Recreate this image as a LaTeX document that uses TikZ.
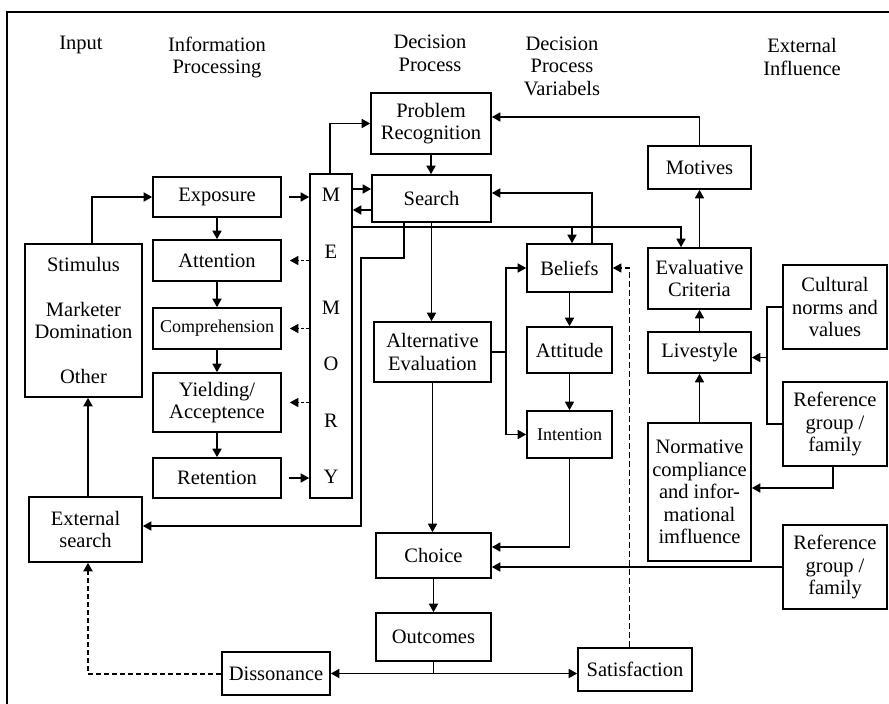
\documentclass[tikz,border=0pt]{standalone}
\usepackage{fontspec}
\setmainfont{Liberation Serif}
\usetikzlibrary{arrows.meta,positioning,calc}

\begin{document}
\begin{tikzpicture}[
  x=1pt, y=-1pt,
  >={Triangle[length=8.5pt,width=9pt]},
  every node/.style={font=\fontsize{20.5}{22.5}\selectfont},
  box/.style={draw,line width=1.6pt,align=center,inner sep=0pt},
  head/.style={align=center,inner sep=0pt},
  small/.style={font=\fontsize{18}{20}\selectfont},
  arc/.style={->,line width=1.5pt},
  heavyarc/.style={->,line width=2.2pt},
  memarc/.style={->,line width=1.2pt,dash pattern=on 3pt off 2pt},
  feedback/.style={->,line width=1.2pt,dash pattern=on 6pt off 3pt},
  heavyfeedback/.style={->,line width=2pt,dash pattern=on 5pt off 3pt}
]
  \useasboundingbox (0,0) rectangle (889,704);
  \draw[line width=1.4pt] (7,704) |- (889,12);

  \node[head] (h1) at (81,45) {Input};
  \node[head] (h2) at (217,57.5) {Information\\Processing};
  \node[head] (h3) at (430,53.5) {Decision\\Process};
  \node[head] (h4) at (562,66) {Decision\\Process\\Variabels};
  \node[head] (h5) at (802,57) {External\\Influence};

  \node[box,minimum width=117pt,minimum height=153pt] (stim) at (83.5,320.5)
    {Stimulus\\[22.6pt]Marketer\\Domination\\[22.6pt]Other};
  \node[box,minimum width=113pt,minimum height=65pt] (ext) at (85.5,529.5) {External\\search};

  \node[box,minimum width=128pt,minimum height=40pt] (expo) at (217,197) {Exposure};
  \node[box,minimum width=128pt,minimum height=41pt] (att) at (217,260.5) {Attention};
  \node[box,small,minimum width=128pt,minimum height=41pt] (comp) at (217,328.5) {Comprehension};
  \node[box,minimum width=128pt,minimum height=59pt] (yield) at (217,402.5) {Yielding/\\Acceptence};
  \node[box,minimum width=128pt,minimum height=40pt] (ret) at (217,478) {Retention};
  \node[box,minimum width=42pt,minimum height=324pt,font=\fontsize{20.5}{56.4}\selectfont] (mem) at (331,336)
    {M\\E\\M\\O\\R\\Y};

  \node[box,minimum width=120pt,minimum height=61pt] (prob) at (431,123.5) {Problem\\Recognition};
  \node[box,minimum width=119pt,minimum height=47pt] (search) at (431.5,198.5) {Search};
  \node[box,minimum width=117pt,minimum height=60pt] (alt) at (432.5,352) {Alternative\\Evaluation};
  \node[box,minimum width=115pt,minimum height=45pt] (choice) at (433.5,555.5) {Choice};
  \node[box,minimum width=115pt,minimum height=48pt] (outc) at (433.5,637) {Outcomes};
  \node[box,minimum width=108pt,minimum height=43pt] (diss) at (276,673.5) {Dissonance};
  \node[box,minimum width=114pt,minimum height=43pt] (satis) at (635,669.5) {Satisfaction};

  \node[box,minimum width=85pt,minimum height=48pt] (bel) at (569.5,268) {Beliefs};
  \node[box,minimum width=85pt,minimum height=46pt] (atti) at (569.5,350) {Attitude};
  \node[box,small,minimum width=85pt,minimum height=47pt] (inten) at (569.5,434.5) {Intention};

  \node[box,minimum width=103pt,minimum height=43pt] (motiv) at (699.5,167.5) {Motives};
  \node[box,minimum width=103pt,minimum height=61pt] (evcrit) at (699.5,278.5) {Evaluative\\Criteria};
  \node[box,minimum width=103pt,minimum height=41pt] (life) at (699.5,352.5) {Livestyle};
  \node[box,minimum width=103pt,minimum height=138pt] (norm) at (699.5,492)
    {Normative\\compliance\\and infor-\\mational\\imfluence};

  \node[box,minimum width=104pt,minimum height=84pt] (cult) at (835,307) {Cultural\\norms and\\values};
  \node[box,minimum width=104pt,minimum height=84pt] (refa) at (835,424) {Reference\\group /\\family};
  \node[box,minimum width=104pt,minimum height=84pt] (refb) at (835,567) {Reference\\group /\\family};

  \coordinate (bus) at (352,227);
  \coordinate (jog) at (361,258);
  \coordinate (altfork) at ([xshift=14pt]alt.east);
  \coordinate (cfork) at ([xshift=-15pt]cult.west);

  \draw[arc] ([xshift=8.5pt]stim.north) |- (expo.west);
  \draw[heavyarc] ([xshift=2.5pt]ext.north) -- ([xshift=2.5pt]ext.north |- stim.south);

  \draw[arc] (expo) -- (att);
  \draw[arc] (att) -- (comp);
  \draw[arc] (comp) -- (yield);
  \draw[arc] (yield) -- (ret);

  \draw[arc,shorten <=7pt] (expo.east) -- (expo.east -| mem.west);
  \draw[arc,shorten <=7pt] (ret.east) -- (ret.east -| mem.west);
  \draw[memarc,shorten >=8pt] (mem.west |- att.east) -- (att.east);
  \draw[memarc,shorten >=8pt] (mem.west |- comp.east) -- (comp.east);
  \draw[memarc,shorten >=8pt] (mem.west |- yield.east) -- (yield.east);

  \draw[arc] ([xshift=-1pt]mem.north) |- (prob.west);
  \draw[arc] (prob.south) -- (prob.south |- search.north);
  \draw[arc] ([yshift=9.5pt]search.west -| mem.east) -- ([yshift=9.5pt]search.west);
  \draw[arc] ([yshift=-11.5pt]search.west) -- ([yshift=-11.5pt]search.west -| mem.east);

  \draw[arc] (bus) -| ([xshift=-18.5pt]evcrit.north);
  \draw[arc] ([xshift=2.5pt]bel.north |- bus) -- ([xshift=2.5pt]bel.north);
  \draw[arc] ([xshift=22.5pt]bel.north) |- ([yshift=5.5pt]search.east);

  \draw[arc] ([xshift=-27.5pt]search.south) |- (jog) |- ([yshift=3.5pt]ext.east);
  \draw[arc] (search.south) -- (search.south |- alt.north);

  \draw[line width=1.5pt] (alt.east) -- (altfork);
  \draw[arc] (altfork) |- (bel.west);
  \draw[arc] (altfork) |- (inten.west);
  \draw[arc] (bel) -- (atti);
  \draw[arc] (atti) -- (inten);

  \draw[arc] (alt.south) -- (alt.south |- choice.north);
  \draw[arc] (inten.south) |- ([yshift=8.5pt]choice.east);
  \draw[arc] (refb.west) -- (refb.west -| choice.east);
  \draw[arc] (choice) -- (outc);

  \draw[arc] (outc.south) |- (diss.east);
  \draw[arc] (outc.south |- diss.east) -- (diss.east -| satis.west);
  \draw[feedback] ([xshift=-5.5pt]satis.north) |- (bel.east);
  \draw[heavyfeedback] (diss.west) -| ([xshift=2.5pt]ext.south);

  \draw[arc] (motiv.north) |- ([yshift=6.5pt]prob.east);
  \draw[arc] (evcrit.north) -- (motiv.south);
  \draw[arc] (life) -- (evcrit);
  \draw[arc] (norm) -- (life);

  \draw[line width=1.5pt] (cult.west) -- (cfork) |- (refa.west);
  \draw[arc] ([yshift=-5pt]life.east -| cfork) -- ([yshift=-5pt]life.east);
  \draw[arc] ([xshift=-2pt]refa.south) |- ([yshift=4pt]norm.east);
\end{tikzpicture}
\end{document}
